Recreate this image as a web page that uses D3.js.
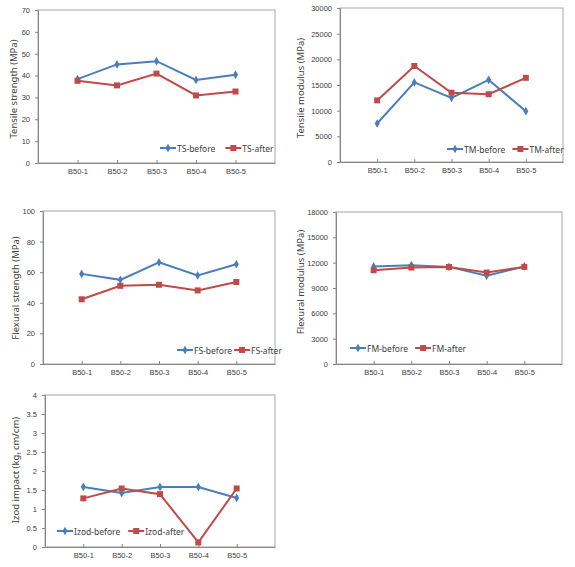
<!DOCTYPE html>
<html><head><meta charset="utf-8">
<script src="https://cdn.jsdelivr.net/npm/d3@7"></script>
<style>
html,body{margin:0;padding:0;background:#fff;}
svg{display:block;font-family:"Noto Sans","Liberation Sans",sans-serif;}
</style></head>
<body><svg id="c" width="575" height="567"></svg>
<script>
const categories = ["B50-1","B50-2","B50-3","B50-4","B50-5"];
const tsBefore = [38.4, 45.1, 46.6, 38.0, 40.4];
const tsAfter  = [37.6, 35.5, 40.9, 30.9, 32.7];
const tmBefore = [7500, 15500, 12500, 16000, 9900];
const tmAfter  = [12000, 18700, 13500, 13200, 16400];
const fsBefore = [58.9, 55.0, 66.4, 57.9, 65.2];
const fsAfter  = [42.3, 51.1, 51.8, 48.1, 53.6];
const fmBefore = [11550, 11700, 11500, 10450, 11550];
const fmAfter  = [11100, 11420, 11480, 10830, 11500];
const izodBefore = [1.58, 1.42, 1.58, 1.58, 1.29];
const izodAfter  = [1.28, 1.54, 1.39, 0.12, 1.54];
const tsTicks = [0,10,20,30,40,50,60,70];
const tmTicks = [0,5000,10000,15000,20000,25000,30000];
const fsTicks = [0,20,40,60,80,100];
const fmTicks = [0,3000,6000,9000,12000,15000,18000];
const izodTicks = [0,0.5,1,1.5,2,2.5,3,3.5,4];
const seriesNames = [["TS-before","TS-after"],["TM-before","TM-after"],["FS-before","FS-after"],["FM-before","FM-after"],["Izod-before","Izod-after"]];

const BLUE = "#4a7ebb", RED = "#be4b48";
const svg = d3.select("#c");

const panels = [
  {b: tsBefore, a: tsAfter, ticks: tsTicks, names: seriesNames[0], title: "Tensile strength (MPa)",
   L: 38, T: 10, R: 275, B: 163, tx: 13, ty: 89, lx: 160, ly: 148, gap: 10},
  {b: tmBefore, a: tmAfter, ticks: tmTicks, names: seriesNames[1], title: "Tensile modulus (MPa)",
   L: 340, T: 8, R: 563, B: 162, tx: 300, ty: 88, lx: 447, ly: 149, gap: 7},
  {b: fsBefore, a: fsAfter, ticks: fsTicks, names: seriesNames[2], title: "Flexural strength (MPa)",
   L: 43, T: 211, R: 275, B: 364, tx: 15, ty: 288, lx: 177, ly: 350, gap: 2},
  {b: fmBefore, a: fmAfter, ticks: fmTicks, names: seriesNames[3], title: "Flexural modulus (MPa)",
   L: 336, T: 212, R: 562, B: 364, tx: 300, ty: 282, lx: 350, ly: 348, gap: 7},
  {b: izodBefore, a: izodAfter, ticks: izodTicks, names: seriesNames[4], title: null,
   L: 45, T: 395, R: 275, B: 547, tx: 15, ty: 470, lx: 57, ly: 531, gap: 8}
];

const diamond = d3.symbol().type(d3.symbolDiamond).size(22);
const square = d3.symbol().type(d3.symbolSquare).size(36);

panels.forEach((p, pi) => {
  const g = svg.append("g");
  const x = d3.scalePoint().domain(categories).range([p.L, p.R]).padding(1);
  const y = d3.scaleLinear().domain([p.ticks[0], p.ticks[p.ticks.length-1]]).range([p.B, p.T]);

  g.append("rect").attr("x", p.L).attr("y", p.T).attr("width", p.R - p.L).attr("height", p.B - p.T)
    .attr("fill", "none").attr("stroke", "#a6a6a6").attr("stroke-width", 1);

  const ya = g.append("g").attr("transform", `translate(${p.L},0)`)
    .call(d3.axisLeft(y).tickValues(p.ticks).tickSize(3).tickPadding(5).tickFormat(d => d));
  ya.select(".domain").attr("stroke", "#868686");
  ya.selectAll(".tick line").attr("stroke", "#868686");
  ya.selectAll("text").attr("fill", "#404040").style("font-size", "7.5px");

  const xa = g.append("g").attr("transform", `translate(0,${p.B})`)
    .call(d3.axisBottom(x).tickSize(-3).tickPadding(6).tickSizeOuter(0));
  xa.select(".domain").attr("stroke", "#868686");
  xa.selectAll(".tick line").attr("stroke", "#868686");
  xa.selectAll("text").attr("fill", "#404040").style("font-size", "7.5px");

  // title
  const t = g.append("text").attr("transform", `translate(${p.tx},${p.ty}) rotate(-90)`)
    .attr("text-anchor", "middle").attr("dominant-baseline", "central")
    .attr("fill", "#404040").style("font-size", "9.5px");
  if (p.title) t.text(p.title);
  else {
    t.append("tspan").text("Izod impact (kg");
    t.append("tspan").attr("baseline-shift", "sub").style("font-size", "6px").text("f");
    t.append("tspan").text(" cm/cm)");
  }

  const line = d3.line().x((d, i) => x(categories[i])).y(d => y(d));
  g.append("path").datum(p.b).attr("d", line).attr("fill", "none").attr("stroke", BLUE).attr("stroke-width", 2);
  g.append("path").datum(p.a).attr("d", line).attr("fill", "none").attr("stroke", RED).attr("stroke-width", 2);
  g.selectAll(".mb").data(p.b).enter().append("path").attr("d", diamond)
    .attr("transform", (d, i) => `translate(${x(categories[i])},${y(d)})`).attr("fill", BLUE);
  g.selectAll(".ma").data(p.a).enter().append("path").attr("d", square)
    .attr("transform", (d, i) => `translate(${x(categories[i])},${y(d)})`).attr("fill", RED);

  // legend
  const lg = g.append("g").attr("transform", `translate(${p.lx},${p.ly})`);
  lg.append("line").attr("x1", 0).attr("x2", 16).attr("stroke", BLUE).attr("stroke-width", 2);
  lg.append("path").attr("d", diamond).attr("transform", "translate(8,0)").attr("fill", BLUE);
  const t1 = lg.append("text").attr("x", 17).attr("dominant-baseline", "central")
    .attr("fill", "#404040").style("font-size", "8.5px").text(p.names[0]);
  const w1 = t1.node().getComputedTextLength();
  const ox = 17 + w1 + p.gap;
  lg.append("line").attr("x1", ox).attr("x2", ox + 16).attr("stroke", RED).attr("stroke-width", 2);
  lg.append("path").attr("d", square).attr("transform", `translate(${ox + 8},0)`).attr("fill", RED);
  lg.append("text").attr("x", ox + 17).attr("dominant-baseline", "central")
    .attr("fill", "#404040").style("font-size", "8.5px").text(p.names[1]);
});
</script></body></html>
